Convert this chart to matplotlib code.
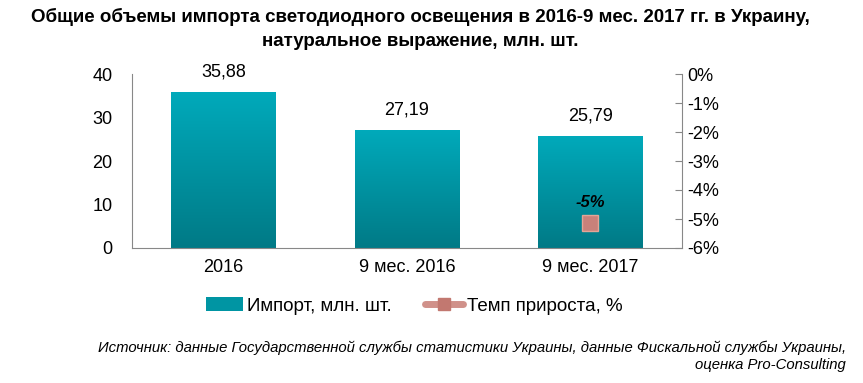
import numpy as np
import matplotlib.pyplot as plt
from matplotlib import font_manager
from matplotlib.colors import LinearSegmentedColormap
from matplotlib.lines import Line2D
from matplotlib.patches import Patch

categories = ["2016", "9 мес. 2016", "9 мес. 2017"]
imports = [35.88, 27.19, 25.79]
growth_idx = [2]
growth = [-5.15]
growth_labels = ["-5%"]

names = {f.name for f in font_manager.fontManager.ttflist}
narrow = "Liberation Sans Narrow" if "Liberation Sans Narrow" in names else "Liberation Sans"
plt.rcParams['font.family'] = ['Liberation Sans', 'DejaVu Sans']

fig = plt.figure(figsize=(8.63, 3.83), dpi=100)
ax = fig.add_axes([132 / 863, 1 - 248 / 383, 550 / 863, 174 / 383])
ax2 = ax.twinx()

x = np.arange(len(categories))
bars = ax.bar(x, imports, width=0.57, color='#0095a3', zorder=2)

# gradient fill for bars
cmap = LinearSegmentedColormap.from_list('teal', ['#007a86', '#00aabb'])
grad = np.linspace(0, 1, 256).reshape(-1, 1)
for b in bars:
    b.set_facecolor('none')
    x0, w, h = b.get_x(), b.get_width(), b.get_height()
    im = ax.imshow(grad, cmap=cmap, origin='lower', aspect='auto',
                   extent=[x0, x0 + w, 0, h], zorder=2)
    im.set_clip_path(b)

for xi, v in zip(x, imports):
    ax.text(xi, v + 2.6, f"{v:.2f}".replace('.', ','), ha='center', va='bottom',
            fontsize=13)

ax.set_xlim(-0.5, 2.5)
ax.set_ylim(0, 40)
ax.set_yticks([0, 10, 20, 30, 40])
ax.set_xticks(x)
ax.set_xticklabels(categories)
ax.tick_params(axis='both', length=0, labelsize=13, pad=8)
ax.tick_params(axis='y', pad=14)

ax2.plot(growth_idx, growth, linestyle='none', marker='s', markersize=11,
         markerfacecolor='#c9817a', markeredgecolor='#e3a597', zorder=3)
for gi, g, lab in zip(growth_idx, growth, growth_labels):
    ax2.text(gi, g + 0.45, lab, ha='center', va='bottom', fontsize=12,
             fontweight='bold', fontstyle='italic')
ax2.set_ylim(-6, 0)
ax2.set_yticks(np.arange(-6, 1, 1))
ax2.set_yticklabels([f"{t}%" for t in range(-6, 1)])
ax2.tick_params(axis='y', direction='in', length=5, color='#888888', labelsize=13, pad=4)

for a in (ax, ax2):
    a.spines['top'].set_visible(False)
    for s in ('left', 'right', 'bottom'):
        a.spines[s].set_color('#888888')
ax2.spines['left'].set_visible(False)
ax2.spines['bottom'].set_visible(False)
ax.spines['right'].set_visible(False)

handles = [Patch(facecolor='#0095a3', edgecolor='none'),
           Line2D([0], [0], color='#d0918a', lw=5, marker='s', markersize=9,
                  markerfacecolor='#c27870', markeredgecolor='#c27870',
                  solid_capstyle='round')]
fig.legend(handles, ["Импорт, млн. шт.", "Темп прироста, %"], loc='center',
           bbox_to_anchor=(414 / 863, 1 - 306 / 383), ncol=2, frameon=False,
           fontsize=13.5, handlelength=2.0, handletextpad=0.2, columnspacing=1.8)

fig.text(420 / 863, 1 - 17 / 383, "Общие объемы импорта светодиодного освещения в 2016-9 мес. 2017 гг. в Украину,",
         ha='center', va='center', fontsize=13.5, fontweight='bold', family=[narrow, 'DejaVu Sans'])
fig.text(420 / 863, 1 - 42 / 383, "натуральное выражение, млн. шт.",
         ha='center', va='center', fontsize=13.5, fontweight='bold', family=[narrow, 'DejaVu Sans'])

fig.text(846 / 863, 1 - 348 / 383, "Источник: данные Государственной службы статистики Украины, данные Фискальной службы Украины,",
         ha='right', va='center', fontsize=10.7, fontstyle='italic', family=[narrow, 'DejaVu Sans'])
fig.text(846 / 863, 1 - 365 / 383, "оценка Pro-Consulting",
         ha='right', va='center', fontsize=10.7, fontstyle='italic', family=[narrow, 'DejaVu Sans'])

fig.savefig('out.png', dpi=100)
